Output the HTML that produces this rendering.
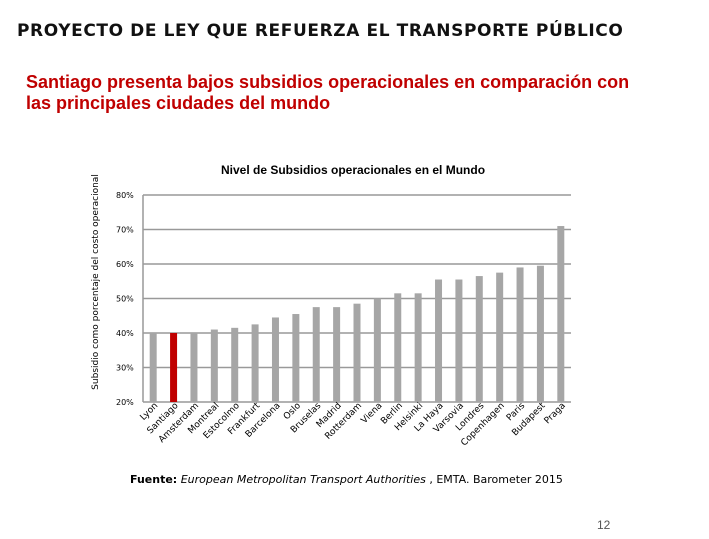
<!DOCTYPE html>
<html><head><meta charset="utf-8"><style>
body{margin:0;width:709px;height:539px;background:#fff;position:relative;overflow:hidden;font-family:"Liberation Sans",sans-serif}
.t{position:absolute;white-space:nowrap}
</style></head><body>
<div class="t" style="left:17px;top:21px;font-size:17px;font-weight:bold;letter-spacing:0.6px;font-family:'DejaVu Sans',sans-serif;color:#111">PROYECTO DE LEY QUE REFUERZA EL TRANSPORTE PÚBLICO</div>
<div class="t" style="left:26px;top:72px;font-size:18px;font-weight:bold;color:#c00000;line-height:21px">Santiago presenta bajos subsidios operacionales en comparación con<br>las principales ciudades del mundo</div>
<svg width="709" height="539" style="position:absolute;left:0;top:0">
<text x="353" y="174" font-size="12" font-weight="bold" text-anchor="middle" font-family="Liberation Sans">Nivel de Subsidios operacionales en el Mundo</text>
<text transform="translate(98,282) rotate(-90)" font-size="9" text-anchor="middle" font-family="DejaVu Sans">Subsidio como porcentaje del costo operacional</text>
<g id="g"></g>
<text x="130" y="483" font-size="11" font-family="DejaVu Sans"><tspan font-weight="bold">Fuente:</tspan> <tspan font-style="italic">European Metropolitan Transport Authorities</tspan> , EMTA.  Barometer 2015</text>
<text x="597" y="529" font-size="12" fill="#555" font-family="Liberation Sans">12</text>
</svg>
<script>
const cities=["Lyon","Santiago","Amsterdam","Montreal","Estocolmo","Frankfurt","Barcelona","Oslo","Bruselas","Madrid","Rotterdam","Viena","Berlin","Helsinki","La Haya","Varsovia","Londres","Copenhagen","Paris","Budapest","Praga"];
const values=[40,40,40,41,41.5,42.5,44.5,45.5,47.5,47.5,48.5,50,51.5,51.5,55.5,55.5,56.5,57.5,59,59.5,71];
const ticks=[20,30,40,50,60,70,80];
const NS="http://www.w3.org/2000/svg",g=document.getElementById('g');
const x0=143,x1=571,yv=v=>402-(v-20)*3.45;
const step=(x1-x0)/cities.length;
function mk(t,a){const e=document.createElementNS(NS,t);for(const k in a)e.setAttribute(k,a[k]);g.appendChild(e);return e;}
ticks.forEach(t=>{
 const l=mk('line',{x1:x0,x2:x1,y1:yv(t),y2:yv(t),stroke:'#999','stroke-width':1.5});
 
 
 const tx=mk('text',{x:116,y:yv(t)+3,'font-size':8,'font-family':'DejaVu Sans'});tx.textContent=t+'%';
 
 
});
const ax=mk('line',{x1:x0,x2:x0,y1:yv(80),y2:yv(20),stroke:'#999','stroke-width':1.5});


cities.forEach((c,i)=>{
 const cx=x0+step*(i+0.5);
 const r=mk('rect',{x:cx-3.5,y:yv(values[i]),width:7,height:yv(20)-yv(values[i]),fill:c==='Santiago'?'#c00000':'#a6a6a6'});
 
 
 const t=mk('text',{transform:`translate(${cx+5},${406}) rotate(-45)`,'font-size':9,'text-anchor':'end','font-family':'DejaVu Sans'});
 t.textContent=c;
 
 
});
</script>
</body></html>
